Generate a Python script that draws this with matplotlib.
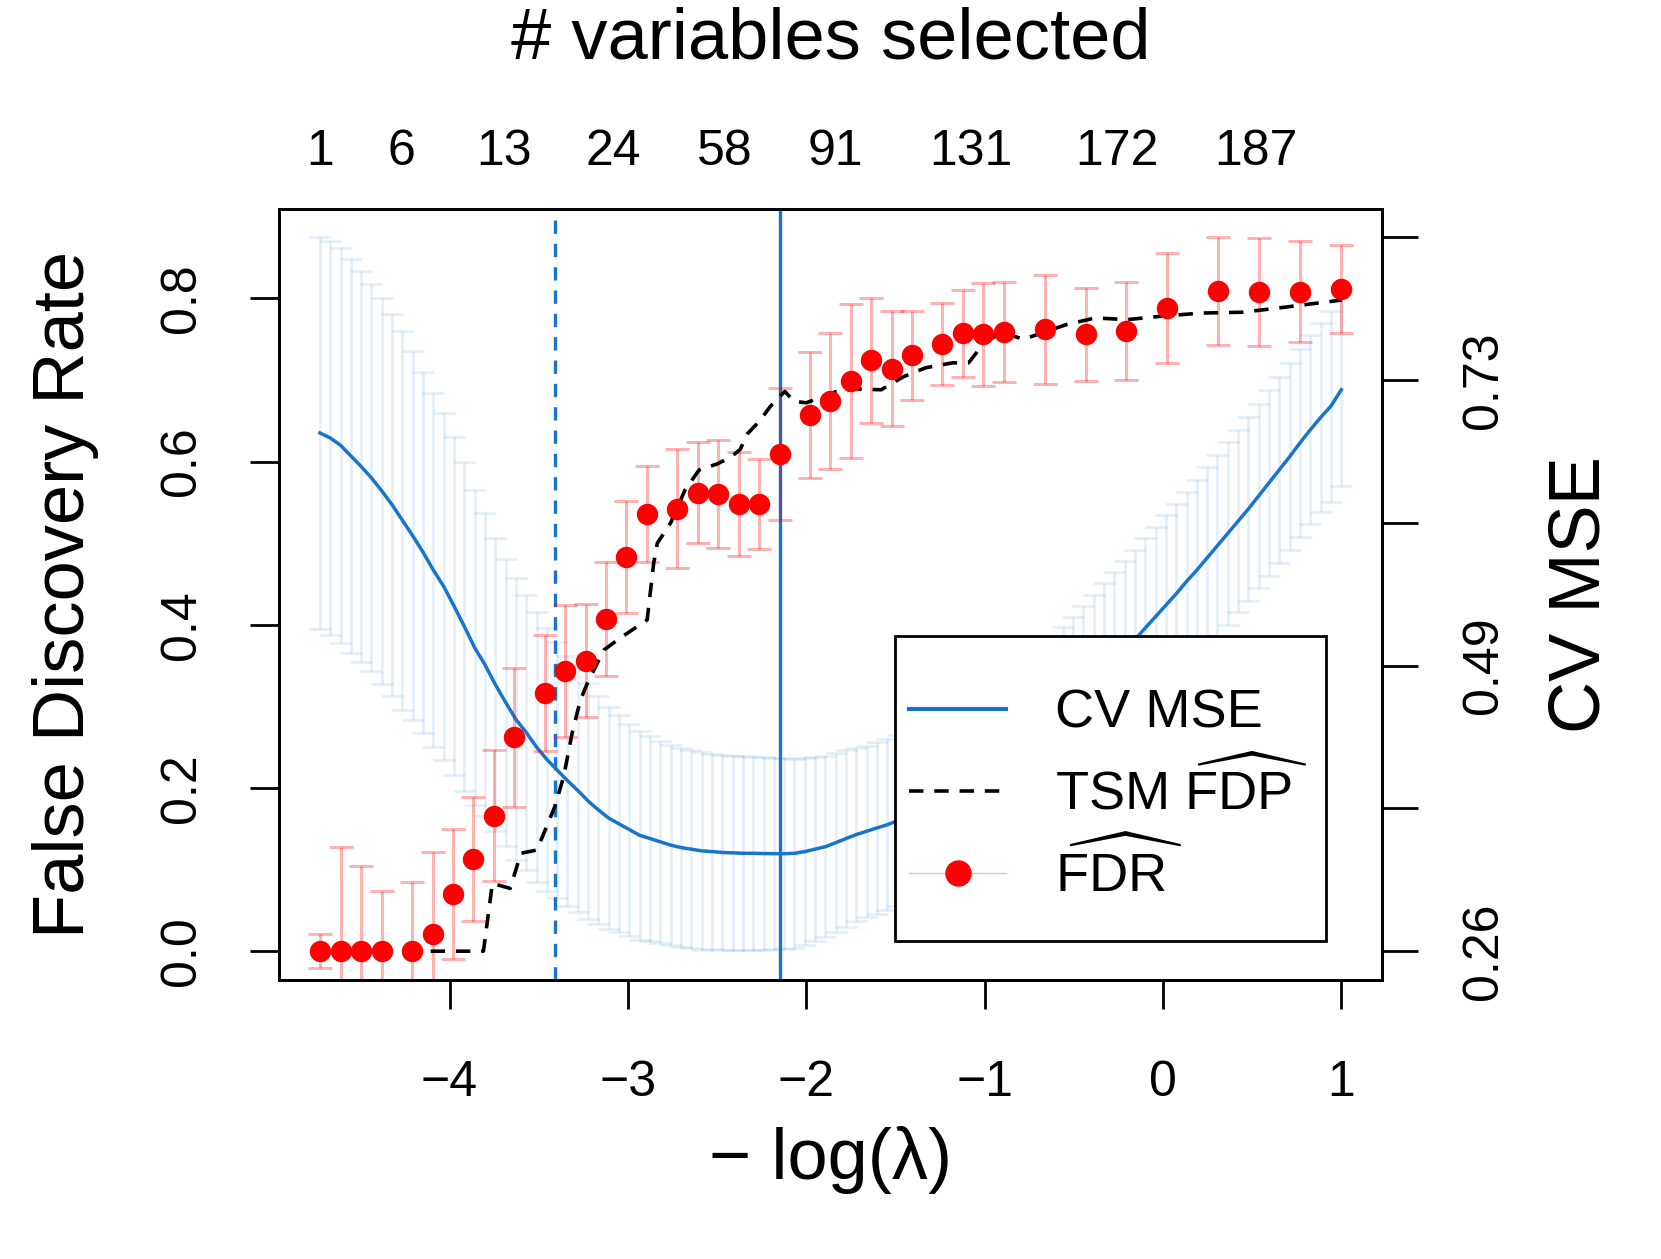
import numpy as np
import matplotlib
matplotlib.use('Agg')
import matplotlib.pyplot as plt
from matplotlib.lines import Line2D
from matplotlib.patches import Rectangle

plt.rcParams['font.family'] = ['Liberation Sans', 'DejaVu Sans']
plt.rcParams['mathtext.fontset'] = 'custom'
plt.rcParams['mathtext.rm'] = 'Liberation Sans'
plt.rcParams['mathtext.it'] = 'Liberation Sans:italic'
plt.rcParams['mathtext.bf'] = 'Liberation Sans:bold'

# cross-validation along the lambda path (x = -log(lambda))
cv_x = np.linspace(-4.727, 1.0, 100)
cv_mse = [0.6846, 0.6805, 0.6745, 0.6658, 0.6571, 0.6478, 0.6371, 0.6257, 0.6130, 0.6003,
          0.5869, 0.5722, 0.5589, 0.5428, 0.5261, 0.5087, 0.4947, 0.4786, 0.4639, 0.4499,
          0.4392, 0.4272, 0.4171, 0.4084, 0.3997, 0.3917, 0.3830, 0.3757, 0.3690, 0.3643,
          0.3596, 0.3549, 0.3523, 0.3496, 0.3469, 0.3449, 0.3436, 0.3422, 0.3416, 0.3409,
          0.3406, 0.3402, 0.3402, 0.3400, 0.3399, 0.3399, 0.3402, 0.3416, 0.3436, 0.3456,
          0.3489, 0.3523, 0.3556, 0.3583, 0.3610, 0.3636, 0.3670, 0.3703, 0.3737, 0.3770,
          0.3810, 0.3857, 0.3897, 0.3944, 0.3997, 0.4051, 0.4111, 0.4171, 0.4238, 0.4305,
          0.4372, 0.4445, 0.4519, 0.4599, 0.4693, 0.4786, 0.4880, 0.4974, 0.5060, 0.5154,
          0.5248, 0.5341, 0.5435, 0.5528, 0.5629, 0.5722, 0.5823, 0.5923, 0.6023, 0.6124,
          0.6224, 0.6331, 0.6438, 0.6545, 0.6652, 0.6765, 0.6872, 0.6973, 0.7066, 0.7200]
cv_se = [0.1605, 0.1611, 0.1618, 0.1611, 0.1598, 0.1585, 0.1578, 0.1565, 0.1551, 0.1511,
         0.1478, 0.1450, 0.1420, 0.1385, 0.1345, 0.1290, 0.1240, 0.1200, 0.1175, 0.1155,
         0.1130, 0.1103, 0.1076, 0.1050, 0.1023, 0.0996, 0.0969, 0.0936, 0.0909, 0.0889,
         0.0869, 0.0856, 0.0842, 0.0829, 0.0822, 0.0816, 0.0809, 0.0809, 0.0802, 0.0802,
         0.0796, 0.0796, 0.0789, 0.0789, 0.0782, 0.0782, 0.0776, 0.0769, 0.0756, 0.0742,
         0.0735, 0.0722, 0.0709, 0.0702, 0.0702, 0.0702, 0.0702, 0.0702, 0.0709, 0.0709,
         0.0709, 0.0715, 0.0715, 0.0715, 0.0722, 0.0722, 0.0722, 0.0729, 0.0729, 0.0729,
         0.0735, 0.0735, 0.0735, 0.0735, 0.0735, 0.0735, 0.0735, 0.0735, 0.0735, 0.0735,
         0.0735, 0.0735, 0.0735, 0.0735, 0.0735, 0.0742, 0.0742, 0.0742, 0.0749, 0.0749,
         0.0756, 0.0756, 0.0762, 0.0762, 0.0769, 0.0769, 0.0776, 0.0776, 0.0782, 0.0789]
lambda_1se = -3.41
lambda_min = -2.149

# estimated FDR with error bars
fdr_x = [-4.727, -4.611, -4.495, -4.381, -4.209, -4.094, -3.979, -3.866, -3.752, -3.636,
         -3.466, -3.350, -3.236, -3.122, -3.008, -2.892, -2.724, -2.607, -2.493, -2.377,
         -2.263, -2.149, -1.979, -1.864, -1.750, -1.636, -1.521, -1.407, -1.236, -1.121,
         -1.007, -0.892, -0.662, -0.433, -0.205, 0.024, 0.310, 0.539, 0.767, 0.996]
fdr = [0.000, 0.000, 0.000, 0.000, 0.000, 0.021, 0.070, 0.113, 0.166, 0.262,
       0.316, 0.343, 0.356, 0.407, 0.483, 0.536, 0.542, 0.562, 0.560, 0.548,
       0.548, 0.609, 0.657, 0.674, 0.699, 0.724, 0.714, 0.730, 0.744, 0.757,
       0.756, 0.759, 0.762, 0.756, 0.760, 0.788, 0.809, 0.808, 0.808, 0.812]
fdr_se = [0.021, 0.128, 0.104, 0.074, 0.085, 0.101, 0.080, 0.076, 0.080, 0.085,
          0.071, 0.081, 0.069, 0.070, 0.069, 0.059, 0.073, 0.062, 0.066, 0.064,
          0.055, 0.081, 0.077, 0.083, 0.094, 0.077, 0.070, 0.055, 0.050, 0.053,
          0.063, 0.061, 0.067, 0.057, 0.060, 0.067, 0.066, 0.066, 0.062, 0.054]

# TSM estimate of the FDP
tsm_x = [-4.106, -3.810, -3.760, -3.660, -3.600, -3.510, -3.410, -3.360, -3.313, -3.266,
         -3.228, -3.135, -3.042, -2.892, -2.855, -2.835, -2.760, -2.680, -2.600, -2.500,
         -2.420, -2.370, -2.330, -2.260, -2.200, -2.120, -2.070, -2.000, -1.830, -1.720,
         -1.580, -1.455, -1.330, -1.180, -1.090, -1.000, -0.906, -0.780, -0.540, -0.380,
         -0.200, -0.015, 0.214, 0.443, 0.603, 0.786, 1.003]
tsm_fdp = [0.000, 0.000, 0.083, 0.077, 0.120, 0.124, 0.177, 0.214, 0.267, 0.308,
           0.328, 0.369, 0.384, 0.406, 0.476, 0.500, 0.525, 0.565, 0.590, 0.597,
           0.606, 0.615, 0.634, 0.650, 0.668, 0.686, 0.674, 0.672, 0.686, 0.689,
           0.688, 0.704, 0.715, 0.721, 0.721, 0.746, 0.758, 0.750, 0.768, 0.776,
           0.774, 0.778, 0.782, 0.783, 0.787, 0.792, 0.798]

# top axis: number of variables selected
nvar_x = [-4.723, -4.272, -3.696, -3.080, -2.455, -1.839, -1.079, -0.257, 0.523]
nvar_labels = ['1', '6', '13', '24', '58', '91', '131', '172', '187']

fdr_ticks = [0.0, 0.2, 0.4, 0.6, 0.8]
fdr_ticklabels = ['0.0', '0.2', '0.4', '0.6', '0.8']
mse_ticks = [0.26, 0.377, 0.494, 0.611, 0.728, 0.845]
mse_ticklabels = ['0.26', '', '0.49', '', '0.73', '']

blue = '#1874CD'

fig = plt.figure(figsize=(16.61, 12.59), dpi=100)
ax = fig.add_axes([0.168, 0.2218, 0.6641, 0.6125])
ax2 = ax.twinx()
ax.set_xlim(-4.956, 1.229)
ax.set_ylim(-0.035, 0.91)
ax2.set_ylim(0.2366, 0.8684)

upper = np.array(cv_mse) + np.array(cv_se)
lower = np.array(cv_mse) - np.array(cv_se)
# CV stuff drawn in the right-hand scale but kept under the FDR marks
ax.vlines(cv_x, lower, upper, colors=blue, alpha=0.11, lw=2, transform=ax2.transData, zorder=1)
ax.plot(cv_x, upper, ls='none', marker='_', ms=16.5, mew=2, color=blue, alpha=0.11,
        transform=ax2.transData, zorder=1)
ax.plot(cv_x, lower, ls='none', marker='_', ms=16.5, mew=2, color=blue, alpha=0.11,
        transform=ax2.transData, zorder=1)
ax.plot(cv_x, cv_mse, color=blue, lw=2.5, transform=ax2.transData, zorder=2)
ax.axvline(lambda_1se, color=blue, lw=2.4, ls=(0, (4, 3)), zorder=2)
ax.axvline(lambda_min, color=blue, lw=2.4, zorder=2)

ax.errorbar(fdr_x, fdr, yerr=fdr_se, fmt='none', ecolor=(1, 0, 0, 0.3), elinewidth=2.2,
            capsize=8.4, capthick=2.2, zorder=3)
ax.plot(tsm_x, tsm_fdp, color='black', lw=2.6, ls=(0, (4, 3)), zorder=4)
ax.plot(fdr_x, fdr, 'o', color='red', ms=14.4, zorder=5)

# axes, ticks, labels
for a in (ax, ax2):
    for s in a.spines.values():
        s.set_linewidth(2)
ax.set_xticks([-4, -3, -2, -1, 0, 1])
ax.tick_params(axis='x', labelsize=36, length=21, width=2, pad=37)
ax.set_yticks(fdr_ticks, labels=fdr_ticklabels)
ax.tick_params(axis='y', labelsize=36, length=21, width=2, pad=32, labelrotation=90)
for t in ax.get_yticklabels():
    t.set_va('center')
ax2.set_yticks(mse_ticks, labels=mse_ticklabels)
ax2.tick_params(axis='y', labelsize=36, length=26, width=2, pad=31, labelrotation=90)
for t in ax2.get_yticklabels():
    t.set_va('center')

ax.set_xlabel('\u2212 log(\u03bb)', fontsize=52, va='center')
ax.xaxis.set_label_coords(0.5, -0.234)
ax.set_ylabel('False Discovery Rate', fontsize=52, va='center')
ax.yaxis.set_label_coords(-0.1937, 0.5)
ax2.set_ylabel('CV MSE', fontsize=52, va='center', rotation=90)
ax2.yaxis.set_label_coords(1.1805, 0.5)

secax = ax.secondary_xaxis('top')
secax.set_xticks(nvar_x, labels=nvar_labels)
secax.tick_params(length=0, labelsize=36, pad=24)
secax.spines['top'].set_visible(False)
ax.text(0.5, 1.2186, '# variables selected', fontsize=52, ha='center', va='center',
        transform=ax.transAxes)

# legend: white box with black border, entries placed inside
ax.add_patch(Rectangle((0.5586, 0.0507), 0.3908, 0.3956, transform=ax.transAxes,
                       facecolor='white', edgecolor='black', lw=2, zorder=9))
handles = [Line2D([], [], color=blue, lw=3),
           Line2D([], [], color='black', lw=2.6, ls=(0, (4, 3))),
           Line2D([], [], color=(1, 0, 0, 0.3), lw=1, marker='o', ms=18,
                  markerfacecolor='red', markeredgecolor='red')]
labels = ['CV MSE', r'TSM $\widehat{\mathrm{FDP}}$', r'$\widehat{\mathrm{FDR}}$']
leg = ax.legend(handles, labels, loc='upper left', bbox_to_anchor=(0.571, 0.3776),
                fontsize=39, frameon=False, borderpad=0, handlelength=1.8,
                handletextpad=0.9, labelspacing=0.36, borderaxespad=0)
leg.set_zorder(10)

fig.savefig('out.png', dpi=100)
